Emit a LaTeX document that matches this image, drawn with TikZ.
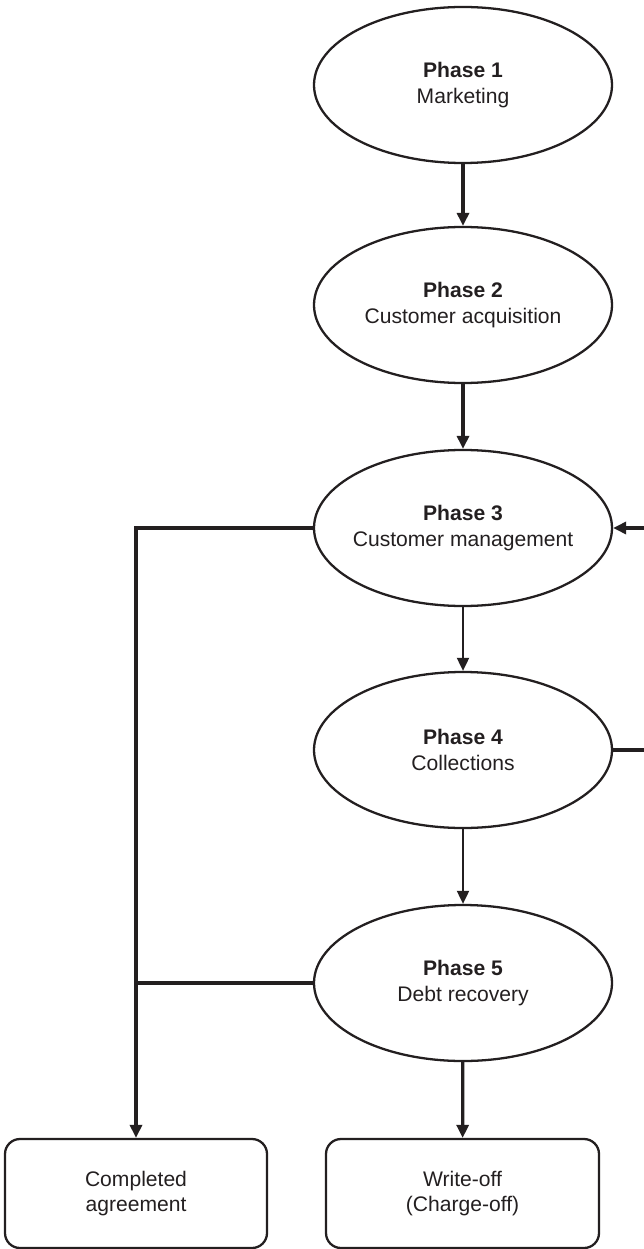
\documentclass[tikz,border=0pt]{standalone}
\usepackage{fontspec}
\setmainfont{Liberation Sans}
\usetikzlibrary{shapes.geometric,arrows.meta}
\definecolor{ink}{HTML}{231F20}

% two centred lines that do not widen the ellipse
\newcommand{\phaselabel}[2]{\makebox[0pt]{\textbf{Phase #1}}\\\makebox[0pt]{#2}}

\begin{document}
\begin{tikzpicture}[
  phase/.style={ellipse,draw=ink,line width=1.3pt,minimum width=5.96cm,minimum height=3.12cm,
    inner sep=0pt,align=center,text=ink,font=\fontsize{12}{14.4}\selectfont},
  outcome/.style={rectangle,rounded corners=0.3cm,draw=ink,line width=1.3pt,minimum height=2.18cm,
    inner sep=0pt,align=center,text=ink,font=\fontsize{12}{14.4}\selectfont},
  heavy/.style={line width=1.8pt,draw=ink,-{Triangle[length=2.6mm,width=2.4mm]}},
  light/.style={line width=1.1pt,draw=ink,-{Triangle[length=2.6mm,width=2.4mm]}},
  heavyline/.style={line width=1.8pt,draw=ink}]

\clip (0,0) rectangle (12.88,-24.98);

% phase nodes
\node[phase] (mkt) at (9.26,-1.70) {\phaselabel{1}{Marketing}};
\node[phase] (acq) at (9.26,-6.10) {\phaselabel{2}{Customer acquisition}};
\node[phase] (mgt) at (9.26,-10.56) {\phaselabel{3}{Customer management}};
\node[phase] (col) at (9.26,-15.00) {\phaselabel{4}{Collections}};
\node[phase] (rec) at (9.26,-19.66) {\phaselabel{5}{Debt recovery}};

% outcome nodes
\node[outcome,minimum width=5.24cm] (done) at (2.72,-23.87) {Completed\\agreement};
\node[outcome,minimum width=5.46cm] (wo) at (9.25,-23.87) {Write-off\\(Charge-off)};

% main flow
\draw[heavy] (mkt) -- (acq);
\draw[heavy] (acq) -- (mgt);
\draw[light] (mgt) -- (col);
\draw[light] (col) -- (rec);
\draw[heavy] (rec) -- (wo);

% return from collections
\coordinate (loop) at (12.92,0);
\draw[heavy] (col.east) -- (loop |- col.east) -- (loop |- mgt.east) -- (mgt.east);

% completed agreement branch
\draw[heavy] (mgt.west) -- (done.north |- mgt.west) -- (done.north);
\draw[heavyline] (rec.west) -- (done.north |- rec.west);

\end{tikzpicture}
\end{document}
